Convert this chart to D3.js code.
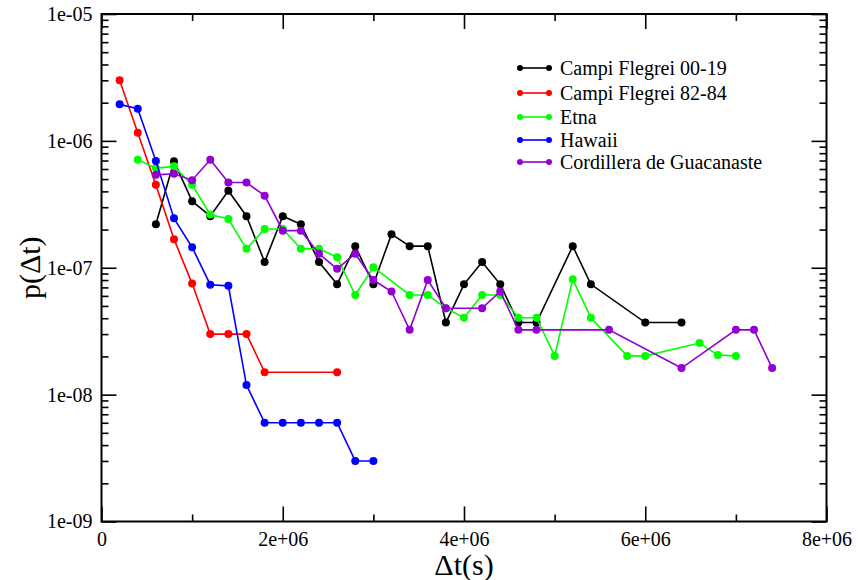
<!DOCTYPE html>
<html>
<head>
<meta charset="utf-8">
<script src="https://cdnjs.cloudflare.com/ajax/libs/d3/7.8.5/d3.min.js"></script>
<style>
  body { margin: 0; background: #fff; }
  svg { display: block; font-family: "Liberation Serif", "DejaVu Serif", serif; }
</style>
</head>
<body>
<div id="chart-container"></div>
<script>
// series data
var seriesNames = ["Campi Flegrei 00-19", "Campi Flegrei 82-84", "Etna", "Hawaii", "Cordillera de Guacanaste"];
var seriesColors = ["#000000", "#ff0000", "#00ff00", "#0000ff", "#9400d3"];

var cf0019X = [6e5, 8e5, 1.0e6, 1.2e6, 1.4e6, 1.6e6, 1.8e6, 2.0e6, 2.2e6, 2.4e6, 2.6e6, 2.8e6, 3.0e6, 3.2e6, 3.4e6, 3.6e6, 3.8e6, 4.0e6, 4.2e6, 4.4e6, 4.6e6, 4.8e6, 5.2e6, 5.4e6, 6.0e6, 6.4e6];
var cf0019Y = [2.2e-7, 6.9e-7, 3.35e-7, 2.55e-7, 4.05e-7, 2.55e-7, 1.11e-7, 2.55e-7, 2.2e-7, 1.11e-7, 7.4e-8, 1.48e-7, 7.4e-8, 1.84e-7, 1.48e-7, 1.48e-7, 3.7e-8, 7.4e-8, 1.11e-7, 7.4e-8, 3.7e-8, 3.7e-8, 1.48e-7, 7.4e-8, 3.7e-8, 3.7e-8];

var cf8284X = [2e5, 4e5, 6e5, 8e5, 1.0e6, 1.2e6, 1.4e6, 1.6e6, 1.8e6, 2.6e6];
var cf8284Y = [3.0e-6, 1.16e-6, 4.5e-7, 1.68e-7, 7.5e-8, 3.0e-8, 3.0e-8, 3.0e-8, 1.5e-8, 1.5e-8];

var etnaX = [4e5, 6e5, 8e5, 1.0e6, 1.2e6, 1.4e6, 1.6e6, 1.8e6, 2.0e6, 2.2e6, 2.4e6, 2.6e6, 2.8e6, 3.0e6, 3.4e6, 3.6e6, 3.8e6, 4.0e6, 4.2e6, 4.4e6, 4.6e6, 4.8e6, 5.0e6, 5.2e6, 5.4e6, 5.8e6, 6.0e6, 6.6e6, 6.8e6, 7.0e6];
var etnaY = [7.1e-7, 6.1e-7, 6.3e-7, 4.5e-7, 2.63e-7, 2.42e-7, 1.41e-7, 2.02e-7, 2.02e-7, 1.41e-7, 1.41e-7, 1.21e-7, 6.1e-8, 1.01e-7, 6.1e-8, 6.1e-8, 4.8e-8, 4.04e-8, 6.1e-8, 6.1e-8, 4.04e-8, 4.04e-8, 2.02e-8, 8.1e-8, 4.04e-8, 2.02e-8, 2.02e-8, 2.55e-8, 2.05e-8, 2.02e-8];

var hawaiiX = [2e5, 4e5, 6e5, 8e5, 1.0e6, 1.2e6, 1.4e6, 1.6e6, 1.8e6, 2.0e6, 2.2e6, 2.4e6, 2.6e6, 2.8e6, 3.0e6];
var hawaiiY = [1.94e-6, 1.79e-6, 6.95e-7, 2.45e-7, 1.45e-7, 7.35e-8, 7.2e-8, 1.19e-8, 6e-9, 6e-9, 6e-9, 6e-9, 6e-9, 3e-9, 3e-9];

var guanX = [6e5, 8e5, 1.0e6, 1.2e6, 1.4e6, 1.6e6, 1.8e6, 2.0e6, 2.2e6, 2.4e6, 2.6e6, 2.8e6, 3.0e6, 3.2e6, 3.4e6, 3.6e6, 3.8e6, 4.2e6, 4.4e6, 4.6e6, 4.8e6, 5.6e6, 6.4e6, 7.0e6, 7.2e6, 7.4e6];
var guanY = [5.4e-7, 5.5e-7, 4.9e-7, 7.1e-7, 4.7e-7, 4.7e-7, 3.7e-7, 1.96e-7, 1.96e-7, 1.29e-7, 9.8e-8, 1.29e-7, 8.0e-8, 6.5e-8, 3.24e-8, 8.0e-8, 4.8e-8, 4.8e-8, 6.5e-8, 3.24e-8, 3.24e-8, 3.24e-8, 1.62e-8, 3.24e-8, 3.24e-8, 1.62e-8];

// tick values and labels
var xMajorTicks = [0, 2e6, 4e6, 6e6, 8e6];
var xTickLabels = ["0", "2e+06", "4e+06", "6e+06", "8e+06"];
var xMinorTicks = [1e6, 3e6, 5e6, 7e6];
var yMajorTicks = [1e-9, 1e-8, 1e-7, 1e-6, 1e-5];
var yTickLabels = ["1e-09", "1e-08", "1e-07", "1e-06", "1e-05"];

var width = 860, height = 580;
var plotLeft = 101.5, plotRight = 826.5, plotTop = 14, plotBottom = 521.5;

var xs = [cf0019X, cf8284X, etnaX, hawaiiX, guanX];
var ys = [cf0019Y, cf8284Y, etnaY, hawaiiY, guanY];
var series = seriesNames.map(function(name, i) {
  return {
    name: name,
    color: seriesColors[i],
    points: xs[i].map(function(x, j) { return [x, ys[i][j]]; })
  };
});

var yMinorTicks = [];
yMajorTicks.slice(0, -1).forEach(function(d) {
  for (var k = 2; k <= 9; k++) yMinorTicks.push(d * k);
});

var x = d3.scaleLinear().domain([0, 8e6]).range([plotLeft, plotRight]);
var y = d3.scaleLog().domain([1e-9, 1e-5]).range([plotBottom, plotTop]);

var svg = d3.select("#chart-container").append("svg")
    .attr("width", width)
    .attr("height", height);

// frame
svg.append("rect")
  .attr("x", plotLeft).attr("y", plotTop)
  .attr("width", plotRight - plotLeft).attr("height", plotBottom - plotTop)
  .attr("fill", "none")
  .attr("stroke", "#000")
  .attr("stroke-width", 2);

function styleAxis(g) {
  g.select(".domain").remove();
  g.selectAll(".tick line").attr("stroke", "#000").attr("stroke-width", 1.6);
  g.selectAll("text")
    .attr("font-family", "Liberation Serif, serif")
    .attr("font-size", 20)
    .attr("fill", "#000");
}

// bottom axis
svg.append("g")
  .attr("transform", "translate(0," + plotBottom + ")")
  .call(d3.axisBottom(x).tickValues(xMajorTicks).tickSize(-15).tickPadding(10)
    .tickFormat(function(d, i) { return xTickLabels[i]; }))
  .call(styleAxis);
svg.append("g")
  .attr("transform", "translate(0," + plotBottom + ")")
  .call(d3.axisBottom(x).tickValues(xMinorTicks).tickSize(-7).tickFormat(""))
  .call(styleAxis);

// top axis
svg.append("g")
  .attr("transform", "translate(0," + plotTop + ")")
  .call(d3.axisTop(x).tickValues(xMajorTicks).tickSize(-15).tickFormat(""))
  .call(styleAxis);
svg.append("g")
  .attr("transform", "translate(0," + plotTop + ")")
  .call(d3.axisTop(x).tickValues(xMinorTicks).tickSize(-7).tickFormat(""))
  .call(styleAxis);

// left axis
svg.append("g")
  .attr("transform", "translate(" + plotLeft + ",0)")
  .call(d3.axisLeft(y).tickValues(yMajorTicks).tickSize(-15).tickPadding(9)
    .tickFormat(function(d, i) { return yTickLabels[i]; }))
  .call(styleAxis);
svg.append("g")
  .attr("transform", "translate(" + plotLeft + ",0)")
  .call(d3.axisLeft(y).tickValues(yMinorTicks).tickSize(-7).tickFormat(""))
  .call(styleAxis);

// right axis
svg.append("g")
  .attr("transform", "translate(" + plotRight + ",0)")
  .call(d3.axisRight(y).tickValues(yMajorTicks).tickSize(-15).tickFormat(""))
  .call(styleAxis);
svg.append("g")
  .attr("transform", "translate(" + plotRight + ",0)")
  .call(d3.axisRight(y).tickValues(yMinorTicks).tickSize(-7).tickFormat(""))
  .call(styleAxis);

// axis titles
svg.append("text")
  .attr("x", (plotLeft + plotRight) / 2)
  .attr("y", 575)
  .attr("text-anchor", "middle")
  .attr("font-size", 30)
  .text("\u0394t(s)");

svg.append("text")
  .attr("transform", "translate(40," + y(1e-7) + ") rotate(-90)")
  .attr("text-anchor", "middle")
  .attr("font-size", 30)
  .text("p(\u0394t)");

// lines and markers
var line = d3.line()
  .x(function(d) { return x(d[0]); })
  .y(function(d) { return y(d[1]); });

var plot = svg.selectAll("g.series")
  .data(series)
  .enter().append("g")
  .attr("class", "series");

plot.append("path")
  .attr("d", function(d) { return line(d.points); })
  .attr("fill", "none")
  .attr("stroke", function(d) { return d.color; })
  .attr("stroke-width", 1.6);

plot.selectAll("circle")
  .data(function(d) { return d.points.map(function(p) { return { p: p, color: d.color }; }); })
  .enter().append("circle")
  .attr("cx", function(d) { return x(d.p[0]); })
  .attr("cy", function(d) { return y(d.p[1]); })
  .attr("r", 4)
  .attr("fill", function(d) { return d.color; });

// legend
var legendRows = [68, 93, 117, 140, 162];
var legend = svg.selectAll("g.legend")
  .data(series)
  .enter().append("g")
  .attr("class", "legend")
  .attr("transform", function(d, i) { return "translate(0," + legendRows[i] + ")"; });

legend.append("line")
  .attr("x1", 520).attr("x2", 549)
  .attr("stroke", function(d) { return d.color; })
  .attr("stroke-width", 1.6);

legend.selectAll("circle")
  .data(function(d) { return [520, 549].map(function(cx) { return { cx: cx, color: d.color }; }); })
  .enter().append("circle")
  .attr("cx", function(d) { return d.cx; })
  .attr("r", 3)
  .attr("fill", function(d) { return d.color; });

legend.append("text")
  .attr("x", 560)
  .attr("dy", "0.33em")
  .attr("font-size", 20)
  .text(function(d) { return d.name; });
</script>
</body>
</html>
